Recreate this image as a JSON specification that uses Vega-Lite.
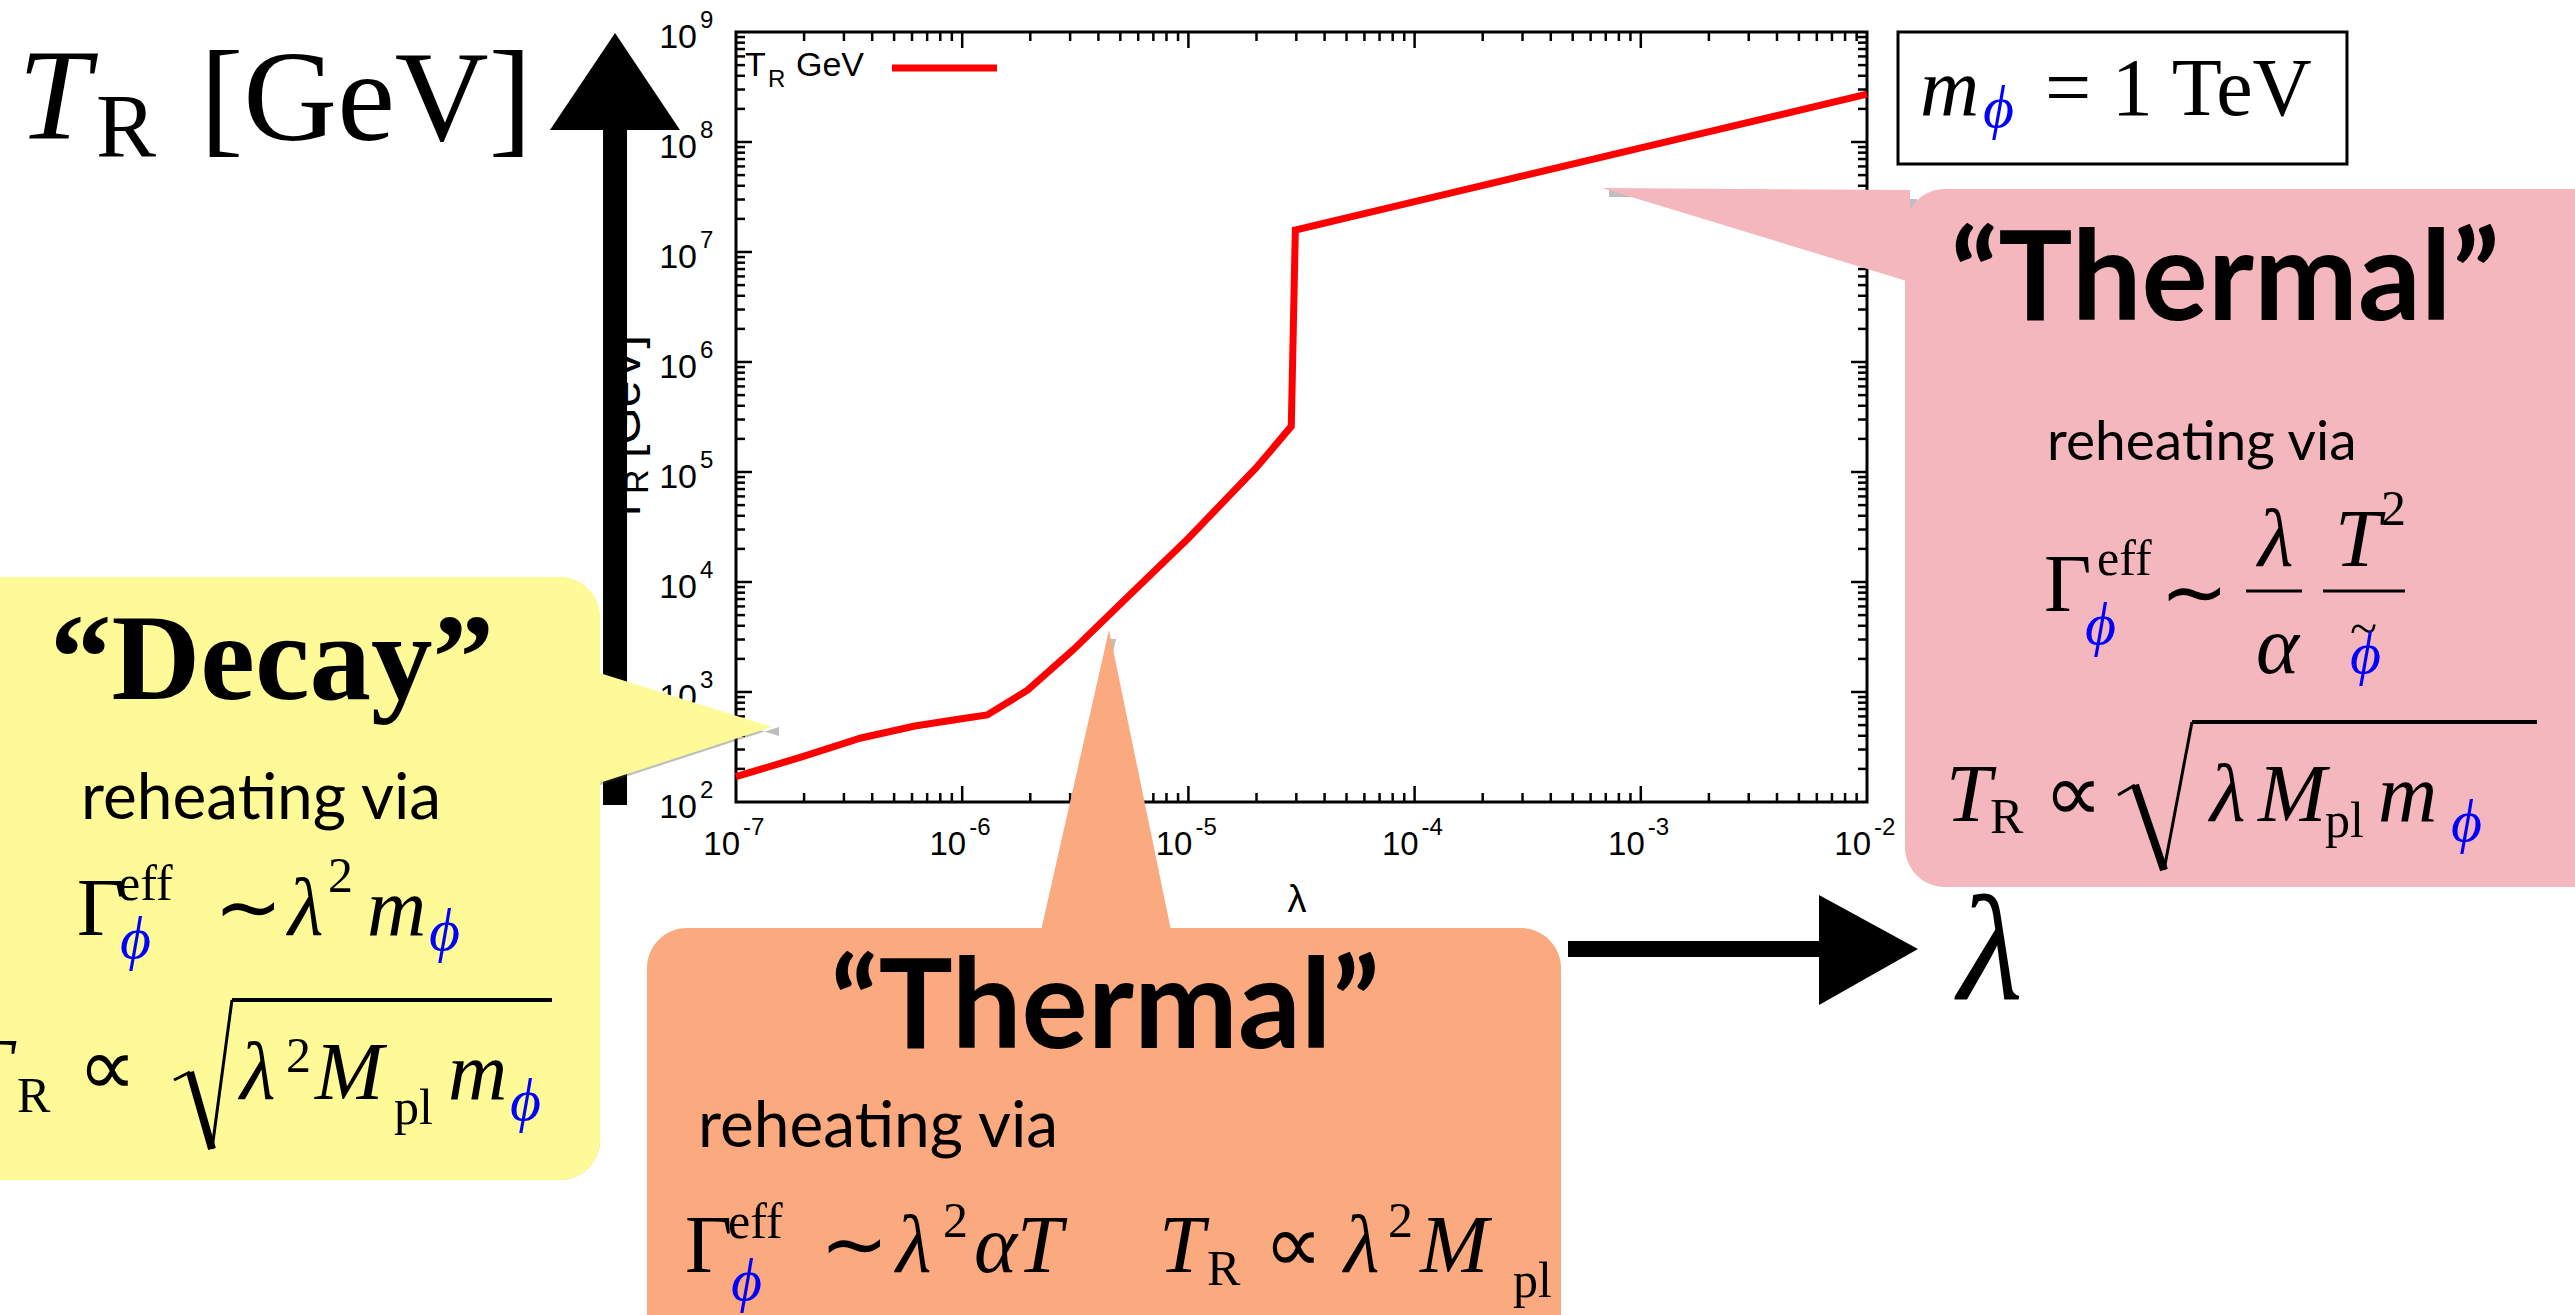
{
"$schema": "https://vega.github.io/schema/vega-lite/v6.json",
"width": 1131, "height": 770,
"autosize": {"type": "none"},
"padding": {"left": 736, "top": 32, "right": 708, "bottom": 513},
"background": "white",
"config": {
  "view": {"stroke": "black", "strokeWidth": 3}
},
"datasets": {
  "curve": [{"lam":1e-7,"T":170},{"lam":1.97e-7,"T":258},{"lam":3.57e-7,"T":382},{"lam":6.18e-7,"T":491},{"lam":9.77e-7,"T":569},{"lam":1.29e-6,"T":618},{"lam":1.95e-6,"T":1043},{"lam":3.09e-6,"T":2410},{"lam":5.12e-6,"T":6620},{"lam":1e-5,"T":25000},{"lam":2e-5,"T":110000},{"lam":2.85e-5,"T":260000},{"lam":2.97e-5,"T":15850000},{"lam":1e-4,"T":28700000},{"lam":1e-3,"T":88300000},{"lam":1e-2,"T":272000000}],
  "xmaj": [{"v":1e-6},{"v":1e-5},{"v":1e-4},{"v":1e-3}],
  "xmin": [{"v":2e-7},{"v":3e-7},{"v":4e-7},{"v":5e-7},{"v":6e-7},{"v":7e-7},{"v":8e-7},{"v":9e-7},{"v":2e-6},{"v":3e-6},{"v":4e-6},{"v":5e-6},{"v":6e-6},{"v":7e-6},{"v":8e-6},{"v":9e-6},{"v":2e-5},{"v":3e-5},{"v":4e-5},{"v":5e-5},{"v":6e-5},{"v":7e-5},{"v":8e-5},{"v":9e-5},{"v":2e-4},{"v":3e-4},{"v":4e-4},{"v":5e-4},{"v":6e-4},{"v":7e-4},{"v":8e-4},{"v":9e-4},{"v":2e-3},{"v":3e-3},{"v":4e-3},{"v":5e-3},{"v":6e-3},{"v":7e-3},{"v":8e-3},{"v":9e-3}],
  "ymaj": [{"v":1e3},{"v":1e4},{"v":1e5},{"v":1e6},{"v":1e7},{"v":1e8}],
  "ymin": [{"v":200},{"v":300},{"v":400},{"v":500},{"v":600},{"v":700},{"v":800},{"v":900},{"v":2e3},{"v":3e3},{"v":4e3},{"v":5e3},{"v":6e3},{"v":7e3},{"v":8e3},{"v":9e3},{"v":2e4},{"v":3e4},{"v":4e4},{"v":5e4},{"v":6e4},{"v":7e4},{"v":8e4},{"v":9e4},{"v":2e5},{"v":3e5},{"v":4e5},{"v":5e5},{"v":6e5},{"v":7e5},{"v":8e5},{"v":9e5},{"v":2e6},{"v":3e6},{"v":4e6},{"v":5e6},{"v":6e6},{"v":7e6},{"v":8e6},{"v":9e6},{"v":2e7},{"v":3e7},{"v":4e7},{"v":5e7},{"v":6e7},{"v":7e7},{"v":8e7},{"v":9e7},{"v":2e8},{"v":3e8},{"v":4e8},{"v":5e8},{"v":6e8},{"v":7e8},{"v":8e8},{"v":9e8}],
  "xlab": [{"v":1e-7,"e":"-7"},{"v":1e-6,"e":"-6"},{"v":1e-5,"e":"-5"},{"v":1e-4,"e":"-4"},{"v":1e-3,"e":"-3"},{"v":1e-2,"e":"-2"}],
  "ylab": [{"v":100,"e":"2"},{"v":1e3,"e":"3"},{"v":1e4,"e":"4"},{"v":1e5,"e":"5"},{"v":1e6,"e":"6"},{"v":1e7,"e":"7"},{"v":1e8,"e":"8"},{"v":1e9,"e":"9"}],
  "xtitle": [{"label":"λ","lam":3.020e-5,"T":10}],
  "ytitleMain": [{"label":"T","lam":3.764e-8,"T":3.298e4},{"label":"[GeV]","lam":3.764e-8,"T":1.341e5}],
  "ytitleSub": [{"label":"R","lam":4.083e-8,"T":6.310e4}],
  "legendT": [{"label":"T","lam":1.096e-7,"T":3.981e8},{"label":"GeV","lam":1.842e-7,"T":3.981e8}],
  "legendR": [{"label":"R","lam":1.385e-7,"T":3.162e8}],
  "legendLine": [{"lam":4.894e-7,"lam2":1.425e-6,"T":4.706e8}],
  "upShaft": [{"lam":2.919e-8,"T":1.427e8,"T2":93.9}],
  "upHead": [{"T":9.793e8,"lam":2.919e-8,"lam2":2.919e-8},{"T":1.285e8,"lam":1.505e-8,"lam2":5.654e-8}],
  "rightShaft": [{"lam":4.767e-4,"lam2":6.862e-3,"T":4.609}],
  "rightHead": [{"lam":6.135e-3,"T":14.27,"T2":1.427},{"lam":1.680e-2,"T":4.609,"T2":4.609}],
  "yellowBox": [{"lam":3.03e-11,"lam2":2.505e-8,"T":1.110e4,"T2":0.03661}],
  "orangeBox": [{"lam":4.041e-8,"lam2":4.437e-4,"T":7.152,"T2":8.46e-4}],
  "pinkBox": [{"lam":1.472e-2,"lam2":21.33,"T":3.738e7,"T2":16.88}],
  "yellowPtr": [{"lam":2.262e-8,"T":1585,"T2":139.8},{"lam":1.443e-7,"T":480.8,"T2":480.8}],
  "pinkPtr": [{"lam":6.737e-4,"T":3.817e7,"T2":3.817e7},{"lam":1.549e-2,"T":3.661e7,"T2":5.337e6}],
  "orangePtr": [{"T":3661,"lam":4.457e-6,"lam2":4.457e-6},{"T":6.178,"lam":2.208e-6,"lam2":8.463e-6}],
  "massBox": [{"lam":1.371e-2,"lam2":1.324,"T":1e9,"T2":6.31e7}],
  "fracBars": [{"lam":0.4738,"lam2":0.8377,"T":8284},{"lam":1.0375,"lam2":2.391,"T":8284}],
  "sqrtThin": [{"lam":3.277e-10,"T":0.2971,"lam2":3.857e-10,"T2":0.3511},{"lam":4.825e-10,"T":0.07008,"lam2":5.912e-10,"T2":1.585},{"lam":0.1287,"T":115.8,"lam2":0.1530,"T2":142.7},{"lam":0.2056,"T":24.09,"lam2":0.2734,"T2":533.7}],
  "sqrtThick": [{"lam":3.857e-10,"T":0.3511,"lam2":4.825e-10,"T2":0.07008},{"lam":0.1530,"T":142.7,"lam2":0.2056,"T2":24.09}],
  "sqrtBar": [{"lam":5.912e-10,"lam2":1.537e-8,"T":1.585,"T2":1.585},{"lam":0.2734,"lam2":9.162,"T":533.7,"T2":533.7}],
  "titleT": [{"label":"T","lam":6.70e-11,"T":1.087e8}],
  "titleR": [{"label":"R","lam":1.481e-10,"T":7.305e7}],
  "titleGeV": [{"label":"[GeV]","lam":4.269e-10,"T":1.043e8}],
  "mathIt": [{"label":"λ","lam":1.046e-9,"T":6.178},{"label":"m","lam":2.336e-9,"T":6.178},{"label":"T","lam":3.944e-11,"T":0.2170},{"label":"λ","lam":6.414e-10,"T":0.1995},{"label":"M","lam":1.377e-9,"T":0.1995},{"label":"m","lam":5.330e-9,"T":0.1995},{"label":"λ","lam":5.096e-7,"T":5.337e-3},{"label":"αT","lam":1.128e-6,"T":5.337e-3},{"label":"T","lam":7.413e-6,"T":5.337e-3},{"label":"λ","lam":4.874e-5,"T":5.337e-3},{"label":"M","lam":1.056e-4,"T":5.337e-3},{"label":"λ","lam":0.5356,"T":1.398e4},{"label":"α","lam":0.5245,"T":1488},{"label":"T","lam":1.172,"T":1.398e4},{"label":"T","lam":2.235e-2,"T":67.19},{"label":"λ","lam":0.3284,"T":67.19},{"label":"M","lam":0.5354,"T":67.19},{"label":"m","lam":1.816,"T":67.19},{"label":"m","lam":1.714e-2,"T":1.760e8}],
  "upright": [{"label":"Γ","lam":1.221e-10,"T":6.178},{"label":"∼","lam":4.925e-10,"T":6.178},{"label":"∝","lam":1.233e-10,"T":0.2170},{"label":"Γ","lam":5.950e-8,"T":5.337e-3},{"label":"∼","lam":2.351e-7,"T":5.337e-3},{"label":"∝","lam":2.158e-5,"T":5.337e-3},{"label":"Γ","lam":6.060e-2,"T":5450},{"label":"∼","lam":0.1974,"T":4513},{"label":"∝","lam":6.060e-2,"T":67.19},{"label":"= 1 TeV","lam":6.124e-2,"T":1.760e8}],
  "small": [{"label":"eff","lam":1.853e-10,"T":12.86},{"label":"2","lam":1.571e-9,"T":15.20},{"label":"R","lam":6.63e-11,"T":0.1520},{"label":"2","lam":1.025e-9,"T":0.3511},{"label":"pl","lam":3.076e-9,"T":0.1182},{"label":"eff","lam":9.218e-8,"T":1.087e-2},{"label":"2","lam":8.225e-7,"T":1.110e-2},{"label":"R","lam":1.208e-5,"T":4.064e-3},{"label":"2","lam":7.627e-5,"T":1.110e-2},{"label":"pl","lam":2.723e-4,"T":3.162e-3},{"label":"eff","lam":0.1039,"T":1.158e4},{"label":"2","lam":1.873,"T":3.298e4},{"label":"R","lam":3.499e-2,"T":52.26},{"label":"pl","lam":1.0588,"T":48.07},{"label":"~","lam":1.365,"T":2675}],
  "phi": [{"label":"ϕ","lam":1.891e-10,"T":3.817},{"label":"ϕ","lam":4.393e-9,"T":4.513},{"label":"ϕ","lam":1.002e-8,"T":0.1285},{"label":"ϕ","lam":9.504e-8,"T":2.971e-3},{"label":"ϕ","lam":9.200e-2,"T":2732},{"label":"ϕ","lam":3.817,"T":44.21},{"label":"ϕ","lam":1.365,"T":1488},{"label":"ϕ","lam":3.257e-2,"T":1.369e8}],
  "decayTitle": [{"label":"“Decay”","lam":8.886e-10,"T":863.9}],
  "thermalTitles": [{"label":"“Thermal”","lam":4.280e-6,"T":0.5801},{"label":"“Thermal”","lam":0.3825,"T":2.408e6}],
  "reheat64": [{"label":"reheating via","lam":1.271e-10,"T":70.06},{"label":"reheating via","lam":6.792e-8,"T":0.07305}],
  "reheat55": [{"label":"reheating via","lam":6.249e-2,"T":1.285e5}],
  "bigLam": [{"label":"λ","lam":2.525e-2,"T":1.585}]
},
"layer": [
  {"data":{"name":"curve"},"mark":{"type":"line","color":"#ff0000","strokeWidth":7,"clip":false},
   "encoding":{
     "x":{"field":"lam","type":"quantitative","scale":{"type":"log","domain":[1e-7,0.01],"nice":false},"axis":null},
     "y":{"field":"T","type":"quantitative","scale":{"type":"log","domain":[100,1e9],"nice":false},"axis":null}}},
  {"data":{"name":"xmin"},"mark":{"type":"rule","color":"black","strokeWidth":2.5},"encoding":{"x":{"field":"v","type":"quantitative"},"y":{"datum":100},"y2":{"datum":120.7}}},
  {"data":{"name":"xmin"},"mark":{"type":"rule","color":"black","strokeWidth":2.5},"encoding":{"x":{"field":"v","type":"quantitative"},"y":{"datum":1e9},"y2":{"datum":8.28e8}}},
  {"data":{"name":"xmaj"},"mark":{"type":"rule","color":"black","strokeWidth":2.5},"encoding":{"x":{"field":"v","type":"quantitative"},"y":{"datum":100},"y2":{"datum":139.8}}},
  {"data":{"name":"xmaj"},"mark":{"type":"rule","color":"black","strokeWidth":2.5},"encoding":{"x":{"field":"v","type":"quantitative"},"y":{"datum":1e9},"y2":{"datum":7.15e8}}},
  {"data":{"name":"ymin"},"mark":{"type":"rule","color":"black","strokeWidth":2.5},"encoding":{"y":{"field":"v","type":"quantitative"},"x":{"datum":1e-7},"x2":{"datum":1.096e-7}}},
  {"data":{"name":"ymin"},"mark":{"type":"rule","color":"black","strokeWidth":2.5},"encoding":{"y":{"field":"v","type":"quantitative"},"x":{"datum":0.01},"x2":{"datum":9.12e-3}}},
  {"data":{"name":"ymaj"},"mark":{"type":"rule","color":"black","strokeWidth":2.5},"encoding":{"y":{"field":"v","type":"quantitative"},"x":{"datum":1e-7},"x2":{"datum":1.177e-7}}},
  {"data":{"name":"ymaj"},"mark":{"type":"rule","color":"black","strokeWidth":2.5},"encoding":{"y":{"field":"v","type":"quantitative"},"x":{"datum":0.01},"x2":{"datum":8.50e-3}}},
  {"data":{"name":"xlab"},"mark":{"type":"text","font":"Liberation Sans","fontSize":33,"align":"right","baseline":"alphabetic","dx":4,"dy":53,"color":"black","clip":false},"encoding":{"x":{"field":"v","type":"quantitative"},"y":{"datum":100},"text":{"value":"10"}}},
  {"data":{"name":"xlab"},"mark":{"type":"text","font":"Liberation Sans","fontSize":24,"align":"left","baseline":"alphabetic","dx":7,"dy":33,"color":"black","clip":false},"encoding":{"x":{"field":"v","type":"quantitative"},"y":{"datum":100},"text":{"field":"e"}}},
  {"data":{"name":"ylab"},"mark":{"type":"text","font":"Liberation Sans","fontSize":34,"align":"right","baseline":"alphabetic","dx":-39,"dy":16,"color":"black","clip":false},"encoding":{"y":{"field":"v","type":"quantitative"},"x":{"datum":1e-7},"text":{"value":"10"}}},
  {"data":{"name":"ylab"},"mark":{"type":"text","font":"Liberation Sans","fontSize":24,"align":"left","baseline":"alphabetic","dx":-36,"dy":-4,"color":"black","clip":false},"encoding":{"y":{"field":"v","type":"quantitative"},"x":{"datum":1e-7},"text":{"field":"e"}}},
  {"data":{"name":"xtitle"},"mark":{"type":"text","font":"Liberation Sans","fontSize":38,"align":"center","baseline":"alphabetic","color":"black","clip":false},"encoding":{"x":{"field":"lam","type":"quantitative"},"y":{"field":"T","type":"quantitative"},"text":{"field":"label"}}},
  {"data":{"name":"ytitleMain"},"mark":{"type":"text","font":"Liberation Sans","fontSize":48,"angle":270,"align":"left","baseline":"alphabetic","color":"black","clip":false},"encoding":{"x":{"field":"lam","type":"quantitative"},"y":{"field":"T","type":"quantitative"},"text":{"field":"label"}}},
  {"data":{"name":"ytitleSub"},"mark":{"type":"text","font":"Liberation Sans","fontSize":34,"angle":270,"align":"left","baseline":"alphabetic","color":"black","clip":false},"encoding":{"x":{"field":"lam","type":"quantitative"},"y":{"field":"T","type":"quantitative"},"text":{"field":"label"}}},
  {"data":{"name":"legendLine"},"mark":{"type":"rule","color":"#ff0000","strokeWidth":7},"encoding":{"x":{"field":"lam","type":"quantitative"},"x2":{"field":"lam2"},"y":{"field":"T","type":"quantitative"}}},
  {"data":{"name":"legendT"},"mark":{"type":"text","font":"Liberation Sans","fontSize":34,"align":"left","baseline":"alphabetic","color":"black","clip":false},"encoding":{"x":{"field":"lam","type":"quantitative"},"y":{"field":"T","type":"quantitative"},"text":{"field":"label"}}},
  {"data":{"name":"legendR"},"mark":{"type":"text","font":"Liberation Sans","fontSize":24,"align":"left","baseline":"alphabetic","color":"black","clip":false},"encoding":{"x":{"field":"lam","type":"quantitative"},"y":{"field":"T","type":"quantitative"},"text":{"field":"label"}}},
  {"data":{"name":"upShaft"},"mark":{"type":"rule","color":"black","strokeWidth":24,"clip":false},"encoding":{"x":{"field":"lam","type":"quantitative"},"y":{"field":"T","type":"quantitative"},"y2":{"field":"T2"}}},
  {"data":{"name":"upHead"},"mark":{"type":"area","orient":"horizontal","color":"black","clip":false},"encoding":{"y":{"field":"T","type":"quantitative"},"x":{"field":"lam","type":"quantitative"},"x2":{"field":"lam2"}}},
  {"data":{"name":"yellowBox"},"mark":{"type":"rect","color":"#444444","opacity":0.15,"cornerRadius":44,"xOffset":12,"yOffset":15,"clip":false},"encoding":{"x":{"field":"lam","type":"quantitative"},"x2":{"field":"lam2"},"y":{"field":"T","type":"quantitative"},"y2":{"field":"T2"}}},
  {"data":{"name":"orangeBox"},"mark":{"type":"rect","color":"#444444","opacity":0.15,"cornerRadius":44,"xOffset":12,"yOffset":15,"clip":false},"encoding":{"x":{"field":"lam","type":"quantitative"},"x2":{"field":"lam2"},"y":{"field":"T","type":"quantitative"},"y2":{"field":"T2"}}},
  {"data":{"name":"pinkBox"},"mark":{"type":"rect","color":"#444444","opacity":0.15,"cornerRadius":44,"xOffset":12,"yOffset":15,"clip":false},"encoding":{"x":{"field":"lam","type":"quantitative"},"x2":{"field":"lam2"},"y":{"field":"T","type":"quantitative"},"y2":{"field":"T2"}}},
  {"data":{"name":"yellowBox"},"mark":{"type":"rect","color":"#444444","opacity":0.3,"cornerRadius":40,"xOffset":6,"yOffset":8,"clip":false},"encoding":{"x":{"field":"lam","type":"quantitative"},"x2":{"field":"lam2"},"y":{"field":"T","type":"quantitative"},"y2":{"field":"T2"}}},
  {"data":{"name":"yellowPtr"},"mark":{"type":"area","orient":"vertical","color":"#444444","opacity":0.35,"xOffset":7,"yOffset":9,"clip":false},"encoding":{"x":{"field":"lam","type":"quantitative"},"y":{"field":"T","type":"quantitative"},"y2":{"field":"T2"}}},
  {"data":{"name":"orangeBox"},"mark":{"type":"rect","color":"#444444","opacity":0.3,"cornerRadius":40,"xOffset":6,"yOffset":8,"clip":false},"encoding":{"x":{"field":"lam","type":"quantitative"},"x2":{"field":"lam2"},"y":{"field":"T","type":"quantitative"},"y2":{"field":"T2"}}},
  {"data":{"name":"orangePtr"},"mark":{"type":"area","orient":"horizontal","color":"#444444","opacity":0.35,"xOffset":7,"yOffset":9,"clip":false},"encoding":{"y":{"field":"T","type":"quantitative"},"x":{"field":"lam","type":"quantitative"},"x2":{"field":"lam2"}}},
  {"data":{"name":"pinkBox"},"mark":{"type":"rect","color":"#444444","opacity":0.3,"cornerRadius":40,"xOffset":6,"yOffset":8,"clip":false},"encoding":{"x":{"field":"lam","type":"quantitative"},"x2":{"field":"lam2"},"y":{"field":"T","type":"quantitative"},"y2":{"field":"T2"}}},
  {"data":{"name":"pinkPtr"},"mark":{"type":"area","orient":"vertical","color":"#444444","opacity":0.35,"xOffset":7,"yOffset":9,"clip":false},"encoding":{"x":{"field":"lam","type":"quantitative"},"y":{"field":"T","type":"quantitative"},"y2":{"field":"T2"}}},
  {"data":{"name":"yellowBox"},"mark":{"type":"rect","color":"#fefa97","opacity":1,"cornerRadius":40,"clip":false},"encoding":{"x":{"field":"lam","type":"quantitative"},"x2":{"field":"lam2"},"y":{"field":"T","type":"quantitative"},"y2":{"field":"T2"}}},
  {"data":{"name":"yellowPtr"},"mark":{"type":"area","orient":"vertical","color":"#fefa97","opacity":1,"clip":false},"encoding":{"x":{"field":"lam","type":"quantitative"},"y":{"field":"T","type":"quantitative"},"y2":{"field":"T2"}}},
  {"data":{"name":"orangeBox"},"mark":{"type":"rect","color":"#fba97f","opacity":1,"cornerRadius":40,"clip":false},"encoding":{"x":{"field":"lam","type":"quantitative"},"x2":{"field":"lam2"},"y":{"field":"T","type":"quantitative"},"y2":{"field":"T2"}}},
  {"data":{"name":"orangePtr"},"mark":{"type":"area","orient":"horizontal","color":"#fba97f","opacity":1,"clip":false},"encoding":{"y":{"field":"T","type":"quantitative"},"x":{"field":"lam","type":"quantitative"},"x2":{"field":"lam2"}}},
  {"data":{"name":"pinkBox"},"mark":{"type":"rect","color":"#f4b7be","opacity":1,"cornerRadius":40,"clip":false},"encoding":{"x":{"field":"lam","type":"quantitative"},"x2":{"field":"lam2"},"y":{"field":"T","type":"quantitative"},"y2":{"field":"T2"}}},
  {"data":{"name":"pinkPtr"},"mark":{"type":"area","orient":"vertical","color":"#f4b7be","opacity":1,"clip":false},"encoding":{"x":{"field":"lam","type":"quantitative"},"y":{"field":"T","type":"quantitative"},"y2":{"field":"T2"}}},
  {"data":{"name":"massBox"},"mark":{"type":"rect","fill":"white","stroke":"black","strokeWidth":3,"clip":false},"encoding":{"x":{"field":"lam","type":"quantitative"},"x2":{"field":"lam2"},"y":{"field":"T","type":"quantitative"},"y2":{"field":"T2"}}},
  {"data":{"name":"fracBars"},"mark":{"type":"rule","color":"black","strokeWidth":3,"clip":false},"encoding":{"x":{"field":"lam","type":"quantitative"},"x2":{"field":"lam2"},"y":{"field":"T","type":"quantitative"}}},
  {"data":{"name":"sqrtThin"},"mark":{"type":"rule","color":"black","strokeWidth":3,"clip":false},"encoding":{"x":{"field":"lam","type":"quantitative"},"x2":{"field":"lam2"},"y":{"field":"T","type":"quantitative"},"y2":{"field":"T2"}}},
  {"data":{"name":"sqrtThick"},"mark":{"type":"rule","color":"black","strokeWidth":8,"clip":false},"encoding":{"x":{"field":"lam","type":"quantitative"},"x2":{"field":"lam2"},"y":{"field":"T","type":"quantitative"},"y2":{"field":"T2"}}},
  {"data":{"name":"sqrtBar"},"mark":{"type":"rule","color":"black","strokeWidth":4,"clip":false},"encoding":{"x":{"field":"lam","type":"quantitative"},"x2":{"field":"lam2"},"y":{"field":"T","type":"quantitative"},"y2":{"field":"T2"}}},
  {"data":{"name":"rightShaft"},"mark":{"type":"rule","color":"black","strokeWidth":16,"clip":false},"encoding":{"x":{"field":"lam","type":"quantitative"},"x2":{"field":"lam2"},"y":{"field":"T","type":"quantitative"}}},
  {"data":{"name":"rightHead"},"mark":{"type":"area","orient":"vertical","color":"black","clip":false},"encoding":{"x":{"field":"lam","type":"quantitative"},"y":{"field":"T","type":"quantitative"},"y2":{"field":"T2"}}},
  {"data":{"name":"titleT"},"mark":{"type":"text","font":"Liberation Serif","fontSize":130,"fontStyle":"italic","align":"left","baseline":"alphabetic","color":"black","clip":false},"encoding":{"x":{"field":"lam","type":"quantitative"},"y":{"field":"T","type":"quantitative"},"text":{"field":"label"}}},
  {"data":{"name":"titleR"},"mark":{"type":"text","font":"Liberation Serif","fontSize":90,"align":"left","baseline":"alphabetic","color":"black","clip":false},"encoding":{"x":{"field":"lam","type":"quantitative"},"y":{"field":"T","type":"quantitative"},"text":{"field":"label"}}},
  {"data":{"name":"titleGeV"},"mark":{"type":"text","font":"Liberation Serif","fontSize":130,"align":"left","baseline":"alphabetic","color":"black","clip":false},"encoding":{"x":{"field":"lam","type":"quantitative"},"y":{"field":"T","type":"quantitative"},"text":{"field":"label"}}},
  {"data":{"name":"mathIt"},"mark":{"type":"text","font":"Liberation Serif","fontSize":82,"fontStyle":"italic","align":"left","baseline":"alphabetic","color":"black","clip":false},"encoding":{"x":{"field":"lam","type":"quantitative"},"y":{"field":"T","type":"quantitative"},"text":{"field":"label"}}},
  {"data":{"name":"upright"},"mark":{"type":"text","font":"Liberation Serif","fontSize":82,"align":"left","baseline":"alphabetic","color":"black","clip":false},"encoding":{"x":{"field":"lam","type":"quantitative"},"y":{"field":"T","type":"quantitative"},"text":{"field":"label"}}},
  {"data":{"name":"small"},"mark":{"type":"text","font":"Liberation Serif","fontSize":50,"align":"left","baseline":"alphabetic","color":"black","clip":false},"encoding":{"x":{"field":"lam","type":"quantitative"},"y":{"field":"T","type":"quantitative"},"text":{"field":"label"}}},
  {"data":{"name":"phi"},"mark":{"type":"text","font":"Liberation Serif","fontSize":60,"fontStyle":"italic","align":"left","baseline":"alphabetic","color":"#0000ff","clip":false},"encoding":{"x":{"field":"lam","type":"quantitative"},"y":{"field":"T","type":"quantitative"},"text":{"field":"label"}}},
  {"data":{"name":"decayTitle"},"mark":{"type":"text","font":"Liberation Serif","fontSize":123,"fontWeight":"bold","align":"center","baseline":"alphabetic","color":"black","clip":false},"encoding":{"x":{"field":"lam","type":"quantitative"},"y":{"field":"T","type":"quantitative"},"text":{"field":"label"}}},
  {"data":{"name":"thermalTitles"},"mark":{"type":"text","font":"Lato","fontSize":124,"fontWeight":"bold","align":"center","baseline":"alphabetic","color":"black","clip":false},"encoding":{"x":{"field":"lam","type":"quantitative"},"y":{"field":"T","type":"quantitative"},"text":{"field":"label"}}},
  {"data":{"name":"reheat64"},"mark":{"type":"text","font":"Lato","fontSize":64,"align":"left","baseline":"alphabetic","color":"black","clip":false},"encoding":{"x":{"field":"lam","type":"quantitative"},"y":{"field":"T","type":"quantitative"},"text":{"field":"label"}}},
  {"data":{"name":"reheat55"},"mark":{"type":"text","font":"Lato","fontSize":55,"align":"left","baseline":"alphabetic","color":"black","clip":false},"encoding":{"x":{"field":"lam","type":"quantitative"},"y":{"field":"T","type":"quantitative"},"text":{"field":"label"}}},
  {"data":{"name":"bigLam"},"mark":{"type":"text","font":"Liberation Serif","fontSize":150,"fontStyle":"italic","align":"left","baseline":"alphabetic","color":"black","clip":false},"encoding":{"x":{"field":"lam","type":"quantitative"},"y":{"field":"T","type":"quantitative"},"text":{"field":"label"}}}
]
}
